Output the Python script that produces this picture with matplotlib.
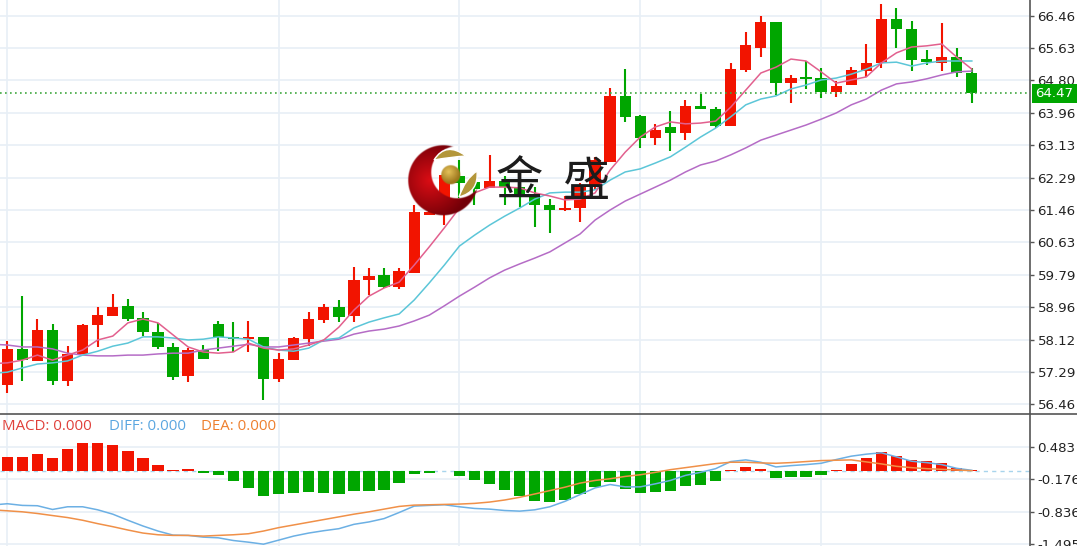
import matplotlib
matplotlib.use("Agg")
import matplotlib.pyplot as plt
from matplotlib.patches import PathPatch, Rectangle
from matplotlib.path import Path
import numpy as np

opens = [56.95, 57.88, 57.57, 58.37, 57.05, 57.75, 58.50, 58.73, 58.99, 58.68, 58.32, 57.93, 57.18,
         57.85, 58.52, 58.19, 58.13, 58.19, 57.10, 57.59, 58.13, 58.62, 58.96, 58.73, 59.66, 59.78,
         59.47, 59.84, 61.33, 61.38, 62.34, 62.18, 62.03, 62.21, 62.05, 61.87, 61.59, 61.46, 61.51,
         62.05, 62.70, 64.40, 63.88, 63.32, 63.60, 63.44, 64.14, 64.06, 63.62, 65.07, 65.63, 66.30,
         64.73, 64.89, 64.86, 64.50, 64.68, 65.04, 65.25, 66.38, 66.12, 65.35, 65.25, 65.40, 64.99]
highs = [58.08, 59.24, 58.65, 58.52, 57.95, 58.52, 58.96, 59.30, 59.17, 58.83, 58.55, 58.03, 57.90,
         57.98, 58.60, 58.57, 58.60, 58.19, 57.77, 58.19, 58.83, 59.04, 59.14, 59.99, 59.97, 59.97,
         59.97, 61.59, 61.59, 62.36, 62.75, 62.34, 62.88, 62.34, 62.21, 62.05, 61.74, 61.82, 62.16,
         62.83, 64.60, 65.09, 63.91, 63.68, 64.01, 64.30, 64.45, 64.11, 65.25, 66.05, 66.46, 66.30,
         64.94, 65.30, 65.12, 64.78, 65.14, 65.74, 66.77, 66.67, 66.33, 65.58, 66.28, 65.63, 65.12]
lows = [56.74, 57.05, 57.57, 56.95, 56.92, 57.75, 57.93, 58.73, 58.60, 58.21, 57.88, 57.08, 57.03,
        57.62, 57.82, 57.80, 57.80, 56.56, 57.03, 57.59, 57.95, 58.55, 58.57, 58.57, 59.27, 59.45,
        59.42, 59.84, 61.33, 61.07, 61.77, 61.59, 62.03, 61.59, 61.54, 61.02, 60.87, 61.43, 61.15,
        61.98, 62.70, 63.73, 63.06, 63.13, 62.98, 63.26, 64.06, 63.57, 63.62, 65.02, 65.40, 64.42,
        64.22, 64.58, 64.35, 64.37, 64.68, 64.89, 65.12, 65.63, 65.04, 65.20, 65.04, 64.89, 64.22]
closes = [57.88, 57.59, 58.37, 57.05, 57.75, 58.50, 58.75, 58.96, 58.65, 58.32, 57.93, 57.16, 57.85,
          57.62, 58.19, 58.13, 58.19, 57.10, 57.62, 58.16, 58.65, 58.96, 58.70, 59.66, 59.76, 59.47,
          59.89, 61.41, 61.41, 62.36, 62.16, 62.00, 62.21, 62.05, 61.87, 61.59, 61.46, 61.51, 62.05,
          62.75, 64.40, 63.86, 63.32, 63.52, 63.44, 64.14, 64.06, 63.62, 65.09, 65.71, 66.30, 64.73,
          64.86, 64.84, 64.50, 64.66, 65.07, 65.25, 66.38, 66.12, 65.33, 65.27, 65.40, 64.99, 64.47]

# moving averages, the first point sits left of the first candle
ma5 = [57.50, 57.52, 57.59, 57.72, 57.59, 57.72, 57.85, 58.11, 58.21, 58.55, 58.65, 58.55, 58.24,
       57.93, 57.80, 57.77, 57.80, 58.03, 57.90, 57.85, 57.88, 57.98, 58.11, 58.44, 58.88, 59.24,
       59.45, 59.60, 60.04, 60.51, 61.00, 61.51, 61.90, 62.05, 62.05, 62.03, 61.90, 61.82, 61.72,
       61.74, 61.90, 62.49, 62.95, 63.34, 63.60, 63.73, 63.68, 63.70, 63.75, 64.11, 64.55, 64.99,
       65.14, 65.35, 65.30, 65.02, 64.73, 64.81, 64.89, 65.25, 65.51, 65.66, 65.69, 65.74, 65.40, 65.09]
ma10 = [57.25, 57.28, 57.39, 57.49, 57.52, 57.57, 57.72, 57.82, 57.95, 58.03, 58.19, 58.19, 58.16,
        58.11, 58.13, 58.19, 58.16, 58.13, 57.93, 57.85, 57.82, 57.90, 58.11, 58.16, 58.42, 58.57,
        58.68, 58.78, 59.14, 59.58, 60.04, 60.53, 60.81, 61.07, 61.30, 61.51, 61.74, 61.90, 61.92,
        61.92, 61.98, 62.23, 62.44, 62.52, 62.67, 62.83, 63.08, 63.34, 63.57, 63.86, 64.17, 64.32,
        64.40, 64.58, 64.68, 64.81, 64.86, 64.96, 65.09, 65.25, 65.27, 65.17, 65.25, 65.30, 65.30, 65.30]
ma20 = [58.00, 57.98, 57.93, 57.93, 57.88, 57.77, 57.72, 57.70, 57.70, 57.72, 57.72, 57.75, 57.77,
        57.77, 57.85, 57.90, 57.95, 58.00, 57.93, 57.93, 57.98, 58.03, 58.08, 58.13, 58.26, 58.34,
        58.39, 58.47, 58.60, 58.75, 58.99, 59.24, 59.47, 59.71, 59.91, 60.07, 60.22, 60.38, 60.61,
        60.84, 61.20, 61.46, 61.69, 61.87, 62.05, 62.23, 62.44, 62.62, 62.72, 62.88, 63.06, 63.26,
        63.39, 63.52, 63.65, 63.80, 63.96, 64.17, 64.32, 64.55, 64.71, 64.76, 64.84, 64.94, 65.02, 65.04]

macd = [0.282, 0.282, 0.337, 0.268, 0.433, 0.557, 0.571, 0.523, 0.399, 0.254, 0.124, 0.014, 0.028,
        -0.055, -0.089, -0.213, -0.358, -0.523, -0.481, -0.454, -0.440, -0.454, -0.475, -0.406,
        -0.413, -0.399, -0.254, -0.062, -0.041, -0.005, -0.103, -0.186, -0.268, -0.392, -0.523,
        -0.619, -0.646, -0.598, -0.468, -0.337, -0.227, -0.371, -0.454, -0.433, -0.406, -0.316,
        -0.289, -0.206, 0.021, 0.076, 0.041, -0.151, -0.131, -0.124, -0.096, 0.007, 0.144, 0.261,
        0.385, 0.309, 0.213, 0.193, 0.165, 0.062, 0.005]
diff = [-0.700, -0.674, -0.708, -0.715, -0.791, -0.736, -0.736, -0.798, -0.887, -1.011, -1.128,
        -1.231, -1.314, -1.320, -1.355, -1.369, -1.424, -1.458, -1.499, -1.417, -1.334, -1.272,
        -1.224, -1.183, -1.094, -1.045, -0.977, -0.853, -0.722, -0.708, -0.695, -0.736, -0.770,
        -0.784, -0.812, -0.825, -0.798, -0.736, -0.626, -0.488, -0.351, -0.282, -0.330, -0.330,
        -0.268, -0.199, -0.096, -0.034, 0.041, 0.186, 0.220, 0.172, 0.076, 0.103, 0.124, 0.151,
        0.227, 0.296, 0.337, 0.365, 0.282, 0.193, 0.165, 0.124, 0.048, 0.007]
dea = [-0.798, -0.818, -0.839, -0.873, -0.915, -0.956, -1.011, -1.080, -1.142, -1.210, -1.272,
       -1.307, -1.320, -1.320, -1.334, -1.320, -1.307, -1.286, -1.231, -1.162, -1.107, -1.052,
       -0.997, -0.942, -0.887, -0.839, -0.784, -0.729, -0.702, -0.695, -0.688, -0.681, -0.667,
       -0.640, -0.598, -0.543, -0.475, -0.406, -0.337, -0.254, -0.199, -0.165, -0.117, -0.083,
       -0.034, 0.021, 0.062, 0.103, 0.144, 0.172, 0.172, 0.158, 0.151, 0.165, 0.186, 0.206, 0.213,
       0.220, 0.179, 0.138, 0.089, 0.062, 0.041, 0.028, 0.014, 0.000]

price_ticks = [66.46, 65.63, 64.80, 63.96, 63.13, 62.29, 61.46, 60.63, 59.79, 58.96, 58.12, 57.29, 56.46]
macd_ticks = [0.483, -0.176, -0.836, -1.495]
grid_candles = [0, 18, 30, 42, 54]
last_price = 64.47

RED = "#f21400"
GREEN = "#00a600"
GRID = "#e8eff6"
AXIS = "#555555"
W, H = 1077, 546

fig = plt.figure(figsize=(W / 100, H / 100), dpi=100)
ax = fig.add_axes([0, (H - 414) / H, 1030 / W, 414 / H])
ax2 = fig.add_axes([0, 0, 1030 / W, (H - 414) / H])

x = np.arange(len(closes))
ma_x = np.arange(-1, len(closes))
xlim = (-0.484, 67.86)

for a in (ax, ax2):
    a.set_xlim(*xlim)
    a.set_xticks(grid_candles)
    a.tick_params(axis="x", length=0, labelbottom=False)
    a.grid(True, color=GRID, lw=1.2)
    a.set_axisbelow(True)
    a.yaxis.tick_right()
    a.tick_params(axis="y", length=3.2, width=1, color=AXIS, labelcolor="#222222", labelsize=9.6, pad=2.2)
    for s in ("top", "left", "bottom"):
        a.spines[s].set_visible(False)
    a.spines["right"].set_color(AXIS)
    a.spines["right"].set_linewidth(1.2)

# price panel
ax.set_ylim(56.202, 66.872)
ax.set_yticks(price_ticks)
ax.set_yticklabels(["%.2f" % t for t in price_ticks])

colors = [RED if c >= o else GREEN for o, c in zip(opens, closes)]
ax.vlines(x, lows, highs, colors=colors, lw=1.5, zorder=2)
body_bottom = np.minimum(opens, closes)
body_height = np.maximum(np.abs(np.array(closes) - np.array(opens)), 0.05)
ax.bar(x, body_height, 0.75, bottom=body_bottom, color=colors, zorder=3)

ax.plot(ma_x, ma20, color="#b56cc6", lw=1.1, zorder=4)
ax.plot(ma_x, ma10, color="#5cc6d8", lw=1.1, zorder=4)
ax.plot(ma_x, ma5, color="#e2608e", lw=1.1, zorder=4)

ax.axhline(last_price, color="#3fa83f", lw=1.2, ls=(0, (1, 2)), zorder=4)
ax.add_patch(Rectangle((1032 / 1030, last_price - 0.245), 46 / 1030, 0.49, transform=ax.get_yaxis_transform(),
                       fc=GREEN, ec="none", clip_on=False, zorder=6))
ax.annotate("%.2f" % last_price, xy=(1, last_price), xycoords=("axes fraction", "data"),
            xytext=(24.5, 0), textcoords="offset pixels", ha="center", va="center",
            color="white", fontsize=9.6, zorder=7)

# macd panel
ax2.set_ylim(-1.536, 1.156)
ax2.set_yticks(macd_ticks)
ax2.set_yticklabels(["%.3f" % t for t in macd_ticks])
ax2.axhline(0, color="#a8d4ec", lw=1, ls=(0, (3, 3)), zorder=2)
ax2.bar(x, macd, 0.75, color=[RED if v >= 0 else GREEN for v in macd], zorder=3)
ax2.plot(ma_x, diff, color="#6cb0e4", lw=1.1, zorder=4)
ax2.plot(ma_x, dea, color="#f09048", lw=1.1, zorder=4)

# overlay in pixels for the legend text, panel divider and logo
top = fig.add_axes([0, 0, 1, 1], facecolor="none")
top.set_xlim(0, W)
top.set_ylim(H, 0)
top.axis("off")
top.plot([0, W], [414, 414], color=AXIS, lw=1.2)

for px, label, col in [(2, "MACD: 0.000", "#e0403a"), (109, "DIFF: 0.000", "#5aa6e0"), (201, "DEA: 0.000", "#ee7f2d")]:
    top.text(px, 426.5, label, color=col, fontsize=10.8, ha="left", va="center", family="Open Sans")


def blob(cx, cy, r, inner=None):
    # soft edged disc as rgba, so the candles stay visible in the crescent's hole
    xs, ys = np.meshgrid(np.arange(cx - r - 2, cx + r + 2, 0.5), np.arange(cy - r - 2, cy + r + 2, 0.5))
    d = np.hypot(xs - cx, ys - cy)
    alpha = np.clip(r - d + 0.5, 0, 1)
    if inner is not None:
        alpha = alpha * np.clip(np.hypot(xs - inner[0], ys - inner[1]) - inner[2] + 0.5, 0, 1)
    return xs, ys, alpha


xs, ys, alpha = blob(443, 180, 35, inner=(457, 172, 26))
shade = np.clip(np.hypot(xs - 430, ys - 180) / 40, 0, 1)[..., None]
rgba = np.dstack([np.array([0.86, 0.05, 0.08]) * (1 - shade) + np.array([0.45, 0.0, 0.03]) * shade, alpha])
top.imshow(rgba, extent=(408 - 2, 478 + 2, 215 + 2, 145 - 2), aspect="auto", zorder=6, interpolation="bilinear")

xs, ys, alpha = blob(450, 175, 9.5)
shade = np.clip(np.hypot(xs - 448, ys - 172) / 11, 0, 1)[..., None]
rgba = np.dstack([np.array([0.90, 0.76, 0.35]) * (1 - shade) + np.array([0.62, 0.47, 0.12]) * shade, alpha])
top.imshow(rgba, extent=(450 - 11.5, 450 + 11.5, 175 + 11.5, 175 - 11.5), aspect="auto", zorder=7, interpolation="bilinear")

# gold leaves with a white halo inside the crescent
leaf1 = Path([(434, 160), (446, 141), (466, 156), (450, 157), (434, 160)],
             [Path.MOVETO, Path.CURVE3, Path.CURVE3, Path.CURVE3, Path.CURVE3])
leaf2 = Path([(459, 197), (479, 192), (477, 171), (465, 179), (459, 197)],
             [Path.MOVETO, Path.CURVE3, Path.CURVE3, Path.CURVE3, Path.CURVE3])
for leaf in (leaf1, leaf2):
    top.add_patch(PathPatch(leaf, fc="#b3963a", ec="white", lw=1.0, zorder=7))

top.text(519.5, 182.5, "金", color="#1c1c1c", fontsize=34, ha="center", va="center",
         family="Noto Sans CJK SC", zorder=8)
top.text(587, 182.5, "盛", color="#1c1c1c", fontsize=34, ha="center", va="center",
         family="Noto Sans CJK SC", zorder=8)
top.set_xlim(0, W)
top.set_ylim(H, 0)

fig.savefig("out.png", dpi=100)
